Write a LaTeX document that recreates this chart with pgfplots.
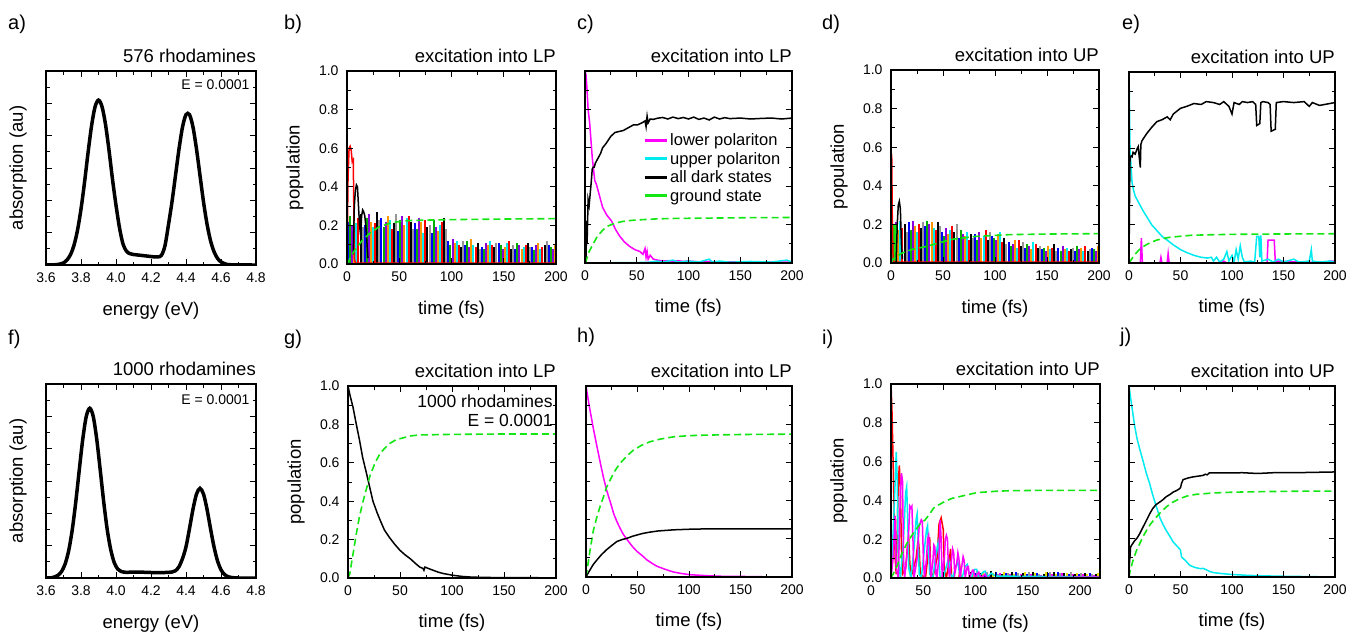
\documentclass[border=0pt]{standalone}
\usepackage{fontspec}
\setmainfont{Liberation Sans}
\usepackage{pgfplots}
\pgfplotsset{compat=1.18}

\definecolor{cmag}{RGB}{255,0,255}
\definecolor{ccyan}{RGB}{0,235,240}
\definecolor{cgreen}{RGB}{20,230,20}
\definecolor{cdgreen}{RGB}{0,175,0}
\definecolor{cpurp}{RGB}{140,0,220}
\definecolor{corange}{RGB}{255,150,0}
\definecolor{cyellow}{RGB}{235,225,0}
\definecolor{cgray}{RGB}{150,150,150}
\definecolor{cblue}{RGB}{0,0,255}
\definecolor{cred}{RGB}{255,0,0}

\tikzset{note/.style={font=\fontsize{14}{16}\selectfont, anchor=east, inner sep=0pt}}
\newcommand{\lf}{\fontsize{16.5}{19}\selectfont}

\pgfplotsset{
  panel/.style={
    scale only axis, axis on top, no markers, clip=true,
    axis line style={line width=1.4pt},
    tick style={line width=1pt, black},
    tick align=inside,
    major tick length=6pt, minor tick length=3.5pt,
    minor x tick num=1, minor y tick num=1,
    tick label style={font=\fontsize{14}{16}\selectfont},
    xticklabel style={yshift=-4pt},
    yticklabel style={xshift=-5pt},
    label style={font=\fontsize{18.5}{21}\selectfont},
    xlabel style={at={(axis description cs:0.5,-0.235)}, anchor=center},
    /pgf/number format/assume math mode=true,
  },
  every axis title/.style={at={(1,1)}, anchor=base east, yshift=9pt,
    inner sep=0pt, font=\fontsize{18.5}{21}\selectfont},
  pop/.style={panel, xmin=0, xmax=200, ymin=0, ymax=1,
    xtick={0,50,100,150,200}, ytick={0,0.2,0.4,0.6,0.8,1},
    yticklabels={0.0,0.2,0.4,0.6,0.8,1.0},
    xlabel={time (fs)}},
  poplab/.style={pop, ylabel={population},
    ylabel style={at={(axis description cs:-0.25,0.5)}, anchor=center}},
  popnolab/.style={pop, yticklabels={}},
  absorb/.style={panel, xmin=3.6, xmax=4.8, ymin=0, ymax=1.2,
    xtick={3.6,3.8,4.0,4.2,4.4,4.6,4.8},
    xticklabels={3.6,3.8,4.0,4.2,4.4,4.6,4.8},
    ytick={0,0.2,0.4,0.6,0.8,1.0,1.2}, yticklabels={},
    xlabel={energy (eV)}, ylabel={absorption (au)},
    ylabel style={at={(axis description cs:-0.133,0.5)}, anchor=center}},
  comb/.style={ycomb, line width=2pt},
  gdash/.style={color=cgreen, line width=1.6pt, dash pattern=on 7pt off 4pt},
  lw/.style={line width=1.5pt},
}

\begin{document}
\begin{tikzpicture}
\path[use as bounding box] (0,0) rectangle (1353pt,-637pt);

% ---------------- a) absorption, 576 rhodamines
\begin{axis}[absorb, at={(46pt,-71pt)}, anchor=north west, width=210pt, height=194pt,
  title={576 rhodamines}]
\addplot[black, line width=3.5pt, smooth] coordinates {
 (3.60,0)(3.64,0.001)(3.66,0.002)(3.68,0.006)(3.70,0.013)(3.72,0.031)(3.74,0.064)
 (3.76,0.122)(3.78,0.215)(3.80,0.346)(3.82,0.51)(3.84,0.692)(3.86,0.858)(3.88,0.977)
 (3.90,1.02)(3.92,0.98)(3.94,0.87)(3.96,0.71)(3.98,0.53)(4.00,0.37)(4.02,0.23)
 (4.04,0.13)(4.06,0.085)(4.08,0.07)(4.10,0.065)(4.14,0.06)(4.18,0.055)(4.22,0.05)
 (4.24,0.05)(4.26,0.06)(4.28,0.12)(4.30,0.25)(4.32,0.391)(4.34,0.554)(4.36,0.717)
 (4.38,0.853)(4.40,0.93)(4.42,0.93)(4.44,0.853)(4.46,0.717)(4.48,0.554)(4.50,0.391)
 (4.52,0.254)(4.54,0.151)(4.56,0.083)(4.58,0.041)(4.60,0.019)(4.62,0.008)(4.66,0.001)(4.80,0)};
\node[note] at (axis description cs:0.97,0.928) {E = 0.0001};
\end{axis}

% ---------------- b) excitation into LP, 576
\begin{axis}[poplab, at={(347pt,-71pt)}, anchor=north west, width=209pt, height=193pt,
  title={excitation into LP}]
\addplot[comb, cblue] coordinates {(1,0.22)(17,0.20)(33,0.24)(49,0.17)(65,0.21)(81,0.16)(97,0.12)(113,0.10)(129,0.09)(145,0.11)(161,0.08)(177,0.09)(193,0.10)};
\addplot[comb, cdgreen] coordinates {(3,0.25)(19,0.24)(35,0.19)(51,0.23)(67,0.18)(83,0.23)(99,0.10)(115,0.12)(131,0.08)(147,0.10)(163,0.11)(179,0.07)(195,0.09)};
\addplot[comb, cpurp] coordinates {(5,0.20)(21,0.26)(37,0.22)(53,0.25)(69,0.24)(85,0.19)(101,0.13)(117,0.09)(133,0.11)(149,0.08)(165,0.10)(181,0.10)(197,0.08)};
\addplot[comb, corange] coordinates {(7,0.18)(23,0.22)(39,0.25)(55,0.20)(71,0.22)(87,0.17)(103,0.11)(119,0.13)(135,0.10)(151,0.09)(167,0.08)(183,0.11)(199,0.10)};
\addplot[comb, ccyan] coordinates {(9,0.21)(25,0.19)(41,0.23)(57,0.24)(73,0.16)(89,0.20)(105,0.12)(121,0.10)(137,0.12)(153,0.11)(169,0.09)(185,0.08)(201,0.11)};
\addplot[comb, cred] coordinates {(11,0.24)(27,0.21)(43,0.18)(59,0.25)(75,0.23)(91,0.22)(107,0.10)(123,0.09)(139,0.10)(155,0.12)(171,0.10)(187,0.09)(203,0.07)};
\addplot[comb, black] coordinates {(13,0.26)(29,0.27)(45,0.21)(61,0.22)(77,0.19)(93,0.24)(109,0.09)(125,0.11)(141,0.09)(157,0.08)(173,0.11)(189,0.10)(205,0.09)};
\addplot[comb, cgray] coordinates {(15,0.19)(31,0.23)(47,0.26)(63,0.18)(79,0.20)(95,0.18)(111,0.12)(127,0.08)(143,0.11)(159,0.10)(175,0.09)(191,0.12)(207,0.08)};
\addplot[cred, lw] coordinates {(0,0)(1,0.45)(2,0.6)(3,0.61)(4,0.59)(5,0.53)(6,0.54)(6.5,0.3)(7,0.03)(8,0.005)(200,0.005)};
\addplot[black, lw] coordinates {(6,0.05)(7,0.3)(8,0.38)(9,0.41)(10,0.4)(11,0.3)(12,0.2)(13,0.15)(14,0.25)(15,0.28)(16,0.27)(17,0.25)(18,0.2)(19,0.12)(20,0.03)};
\addplot[gdash] coordinates {(0,0)(3,0.03)(6,0.06)(10,0.09)(15,0.125)(22,0.16)(30,0.19)(40,0.21)(50,0.22)(60,0.225)(80,0.228)(100,0.23)(150,0.233)(200,0.235)};
\end{axis}

% ---------------- c) excitation into LP, 576, polariton populations
\begin{axis}[popnolab, at={(585pt,-71pt)}, anchor=north west, width=207pt, height=192pt,
  title={excitation into LP},
  legend style={at={(axis description cs:0.28,0.685)}, anchor=north west, draw=none, fill=none,
    inner sep=0pt, row sep=1pt},
  legend cell align=left,
  legend image code/.code={\draw[#1, solid, line width=3pt] (0pt,0pt) -- (22pt,0pt);}]
\addplot[cmag, lw] coordinates {(0,1.0)(1,0.98)(2,0.9)(3,0.8)(4.5,0.73)(7,0.55)(9.4,0.43)(11,0.41)(13,0.37)(17,0.29)(21,0.25)(25.5,0.22)(30,0.17)(33.5,0.14)(38,0.11)(43,0.087)(48,0.07)(53,0.06)(56,0.045)(58,0.075)(59,0.03)(60,0.06)(61,0.02)(63,0.04)(66,0.02)(70,0.015)(75,0.01)(80,0.012)(85,0.008)(90,0.012)(95,0.008)(100,0.01)(110,0.006)(120,0.008)(130,0.005)(150,0.006)(170,0.004)(190,0.005)(200,0.004)};
\addplot[ccyan, lw] coordinates {(0,0)(60,0.003)(70,0.01)(75,0.005)(85,0.015)(90,0.005)(100,0.01)(110,0.005)(120,0.02)(123,0.005)(130,0.01)(140,0.004)(160,0.008)(180,0.005)(195,0.015)(200,0.005)};
\addplot[black, lw] coordinates {(0,0)(1,0.0)(1.5,0.22)(2,0.1)(3,0.33)(4,0.3)(5,0.36)(6,0.42)(7,0.49)(8,0.5)(9,0.5)(10,0.52)(12,0.54)(15,0.57)(17,0.6)(20,0.62)(25,0.66)(29,0.68)(33,0.685)(37,0.69)(42,0.705)(47,0.72)(51,0.72)(55,0.73)(58,0.74)(59,0.71)(60,0.765)(61,0.73)(63,0.75)(66,0.748)(70,0.754)(75,0.758)(80,0.75)(85,0.76)(90,0.752)(95,0.758)(100,0.75)(105,0.76)(110,0.748)(115,0.755)(120,0.745)(125,0.76)(130,0.75)(135,0.757)(140,0.752)(150,0.755)(160,0.75)(170,0.753)(180,0.755)(190,0.75)(200,0.755)};
\addplot[gdash] coordinates {(0,0)(1,0.01)(4,0.06)(8,0.10)(12,0.14)(17,0.17)(21,0.19)(25.5,0.20)(31,0.21)(37,0.217)(45,0.222)(53,0.225)(70,0.23)(85,0.232)(120,0.234)(160,0.236)(200,0.237)};
\legend{\lf lower polariton, \lf upper polariton, \lf all dark states, \lf ground state}
\end{axis}

% ---------------- d) excitation into UP, 576
\begin{axis}[poplab, at={(891pt,-70pt)}, anchor=north west, width=208pt, height=193pt,
  title={excitation into UP}]
\addplot[comb, cblue] coordinates {(1,0.20)(17,0.21)(33,0.19)(49,0.16)(65,0.13)(81,0.15)(97,0.14)(113,0.11)(129,0.08)(145,0.07)(161,0.08)(177,0.06)(193,0.08)};
\addplot[comb, cdgreen] coordinates {(3,0.19)(19,0.17)(35,0.22)(51,0.14)(67,0.17)(83,0.12)(99,0.13)(115,0.09)(131,0.10)(147,0.08)(163,0.06)(179,0.09)(195,0.07)};
\addplot[comb, cpurp] coordinates {(5,0.21)(21,0.22)(37,0.20)(53,0.18)(69,0.15)(85,0.16)(101,0.12)(117,0.10)(133,0.09)(149,0.06)(165,0.09)(181,0.07)(197,0.06)};
\addplot[comb, corange] coordinates {(7,0.17)(23,0.19)(39,0.21)(55,0.15)(71,0.14)(87,0.13)(103,0.15)(119,0.12)(135,0.07)(151,0.09)(167,0.07)(183,0.08)(199,0.09)};
\addplot[comb, ccyan] coordinates {(9,0.22)(25,0.16)(41,0.18)(57,0.17)(73,0.16)(89,0.14)(105,0.16)(121,0.08)(137,0.11)(153,0.07)(169,0.08)(185,0.06)(201,0.07)};
\addplot[comb, cred] coordinates {(11,0.18)(27,0.20)(43,0.17)(59,0.19)(75,0.12)(91,0.17)(107,0.11)(123,0.12)(139,0.10)(155,0.08)(171,0.06)(187,0.09)(203,0.05)};
\addplot[comb, black] coordinates {(13,0.20)(29,0.18)(45,0.21)(61,0.16)(77,0.15)(93,0.12)(109,0.13)(125,0.09)(141,0.08)(157,0.10)(173,0.07)(189,0.06)(205,0.08)};
\addplot[comb, cgray] coordinates {(15,0.16)(31,0.21)(47,0.19)(63,0.20)(79,0.13)(95,0.16)(111,0.10)(127,0.11)(143,0.09)(159,0.06)(175,0.08)(191,0.07)(207,0.06)};
\addplot[comb, cgreen] coordinates {(1,0.2)(2,0.2)(3,0.2)(4,0.19)(5,0.2)};
\addplot[cred, lw] coordinates {(0,0.58)(0.7,0.55)(1.2,0.25)(2,0.02)(3,0.005)(200,0.005)};
\addplot[black, lw] coordinates {(5,0.0)(6,0.2)(7,0.3)(8,0.32)(9,0.28)(10,0.1)(11,0.02)};
\addplot[gdash] coordinates {(0,0.0)(2,0.02)(10,0.05)(20,0.07)(34,0.086)(50,0.11)(60,0.124)(82,0.138)(100,0.143)(114,0.147)(150,0.15)(200,0.152)};
\end{axis}

% ---------------- e) excitation into UP, 576, polariton populations
\begin{axis}[popnolab, at={(1129pt,-72pt)}, anchor=north west, width=206pt, height=191pt,
  title={excitation into UP}]
\addplot[cmag, lw] coordinates {(0,0)(11,0)(12,0.13)(13,0)(30,0)(31,0.03)(32,0)(37,0)(38,0.05)(39,0)(90,0)(92,0.01)(95,0)(134,0)(135,0.12)(141,0.12)(142,0.01)(190,0)(195,0.01)(200,0.01)};
\addplot[ccyan, lw] coordinates {(0,1.0)(0.5,0.8)(1,0.6)(2,0.5)(3,0.42)(4.5,0.38)(6,0.35)(8,0.33)(11,0.30)(14,0.27)(17.5,0.24)(22,0.2)(27,0.17)(32,0.14)(37,0.12)(43,0.095)(50,0.07)(56,0.055)(63,0.04)(70,0.03)(76,0.026)(80,0.03)(82,0.01)(85,0.03)(88,0.005)(92,0.02)(95,0.06)(97,0.01)(100,0.04)(102,0.005)(104,0.07)(106,0.02)(108,0.09)(110,0.03)(112,0.005)(118,0.01)(122,0.005)(124,0.14)(126,0.14)(127,0.03)(128,0.145)(129,0.01)(135,0.02)(140,0.005)(145,0.02)(150,0.005)(160,0.02)(165,0.005)(175,0.01)(177,0.07)(178,0.01)(185,0.005)(195,0.01)(200,0.005)};
\addplot[black, lw] coordinates {(0,0)(0.5,0.33)(1,0.55)(2,0.56)(3,0.556)(4,0.58)(6,0.57)(8,0.6)(9,0.61)(10,0.55)(11,0.5)(11.5,0.62)(12.6,0.64)(15,0.66)(17.5,0.68)(22,0.71)(27,0.74)(32,0.75)(37,0.765)(40,0.75)(43,0.78)(50,0.81)(56,0.82)(63,0.835)(70,0.83)(75,0.845)(82,0.84)(88,0.83)(92,0.845)(97,0.82)(100,0.78)(102,0.84)(107,0.83)(110,0.845)(115,0.84)(120,0.845)(123,0.83)(124,0.72)(127,0.73)(128,0.84)(130,0.845)(135,0.84)(137,0.83)(138,0.69)(142,0.7)(143,0.84)(150,0.845)(160,0.84)(170,0.845)(175,0.82)(178,0.84)(185,0.825)(190,0.83)(200,0.84)};
\addplot[gdash] coordinates {(0,0)(5,0.04)(10,0.07)(15,0.09)(20,0.105)(27,0.12)(33,0.128)(40,0.135)(50,0.14)(60,0.145)(80,0.148)(100,0.15)(150,0.152)(200,0.153)};
\end{axis}

% ---------------- f) absorption, 1000 rhodamines
\begin{axis}[absorb, at={(46pt,-384pt)}, anchor=north west, width=210pt, height=194pt,
  title={1000 rhodamines}]
\addplot[black, line width=3.5pt, smooth] coordinates {
 (3.60,0)(3.63,0.001)(3.65,0.007)(3.67,0.018)(3.69,0.042)(3.71,0.089)(3.73,0.171)
 (3.75,0.298)(3.77,0.469)(3.79,0.667)(3.81,0.858)(3.83,0.999)(3.85,1.05)(3.87,0.999)
 (3.89,0.858)(3.91,0.667)(3.93,0.469)(3.95,0.298)(3.97,0.175)(3.99,0.095)(4.01,0.055)
 (4.03,0.04)(4.06,0.035)(4.10,0.037)(4.15,0.036)(4.20,0.034)(4.25,0.033)(4.30,0.035)
 (4.32,0.037)(4.34,0.045)(4.36,0.07)(4.38,0.12)(4.40,0.193)(4.42,0.306)(4.44,0.426)
 (4.46,0.519)(4.48,0.555)(4.50,0.519)(4.52,0.426)(4.54,0.306)(4.56,0.193)(4.58,0.106)
 (4.60,0.051)(4.62,0.022)(4.64,0.008)(4.66,0.003)(4.70,0)(4.80,0)};
\node[note] at (axis description cs:0.97,0.92) {E = 0.0001};
\end{axis}

% ---------------- g) excitation into LP, 1000
\begin{axis}[poplab, at={(348pt,-386pt)}, anchor=north west, width=208pt, height=192pt,
  title={excitation into LP}]
\addplot[cmag, line width=2pt] coordinates {(0,0.002)(200,0.002)};
\addplot[black, lw] coordinates {(0,1.0)(2,0.95)(4.8,0.89)(8,0.8)(11,0.72)(14,0.63)(18,0.54)(21,0.47)(24,0.40)(28,0.34)(31,0.30)(35,0.25)(40,0.21)(45,0.175)(50,0.144)(55,0.12)(60,0.10)(65,0.075)(69,0.057)(72,0.05)(73,0.04)(74,0.057)(78,0.048)(82,0.04)(87,0.03)(92,0.023)(101,0.014)(110,0.008)(118,0.005)(130,0.003)(150,0.002)(200,0.001)};
\addplot[gdash] coordinates {(0,0)(1.6,0.02)(5,0.13)(8,0.23)(11,0.32)(14.5,0.40)(18,0.47)(21,0.53)(26,0.6)(31,0.65)(36,0.68)(40,0.70)(46,0.72)(53,0.73)(60,0.74)(69,0.745)(100,0.748)(150,0.75)(200,0.75)};
\node[note, font=\fontsize{17.5}{19}\selectfont] at (axis description cs:0.985,0.922) {1000 rhodamines};
\node[note, font=\fontsize{17.5}{19}\selectfont] at (axis description cs:0.985,0.82) {E = 0.0001};
\end{axis}

% ---------------- h) excitation into LP, 1000, polariton populations
\begin{axis}[popnolab, at={(586pt,-386pt)}, anchor=north west, width=206pt, height=191pt,
  title={excitation into LP}]
\addplot[ccyan, line width=2pt] coordinates {(0,0.002)(200,0.002)};
\addplot[cmag, lw] coordinates {(0,1.0)(3,0.9)(7.4,0.77)(10,0.7)(14,0.595)(17,0.52)(20,0.455)(24,0.385)(27,0.33)(30,0.29)(33,0.256)(36,0.225)(40,0.195)(45,0.16)(49.5,0.134)(55,0.11)(59,0.09)(64,0.072)(69,0.056)(77,0.04)(85,0.026)(93,0.018)(101,0.012)(117,0.007)(130,0.004)(150,0.003)(175,0.001)(200,0.0)};
\addplot[black, lw] coordinates {(0,0)(2,0.02)(4,0.038)(7,0.065)(10.7,0.09)(15,0.117)(20,0.143)(25,0.165)(30,0.186)(35,0.196)(40,0.203)(45,0.213)(49.5,0.22)(55,0.228)(62,0.235)(70,0.241)(85,0.247)(100,0.25)(117,0.252)(150,0.252)(200,0.252)};
\addplot[gdash] coordinates {(0,0)(2,0.07)(4,0.143)(7,0.24)(10.7,0.317)(14,0.375)(17,0.42)(20,0.47)(23.6,0.51)(28,0.555)(33,0.595)(40,0.635)(46,0.664)(54,0.69)(62,0.708)(72,0.722)(85,0.734)(100,0.74)(117,0.743)(150,0.746)(200,0.748)};
\end{axis}

% ---------------- i) excitation into UP, 1000
\begin{axis}[poplab, at={(891pt,-384pt)}, anchor=north west, width=209pt, height=194pt,
  title={excitation into UP}, xticklabel style={xshift=-20pt}]
\addplot[comb, black] coordinates {(76,0.03)(86,0.025)(96,0.035)(106,0.02)(116,0.03)(126,0.028)(136,0.033)(146,0.022)(156,0.03)(166,0.025)(176,0.02)(186,0.027)(196,0.02)};
\addplot[comb, cyellow] coordinates {(78,0.02)(88,0.03)(98,0.025)(108,0.03)(118,0.022)(128,0.03)(138,0.025)(148,0.03)(158,0.02)(168,0.028)(178,0.025)(188,0.02)(198,0.025)};
\addplot[comb, cblue] coordinates {(80,0.025)(90,0.02)(100,0.03)(110,0.025)(120,0.03)(130,0.02)(140,0.027)(150,0.025)(160,0.03)(170,0.02)(180,0.022)(190,0.025)(200,0.018)};
\addplot[comb, cgray] coordinates {(82,0.035)(92,0.03)(102,0.02)(112,0.028)(122,0.025)(132,0.033)(142,0.02)(152,0.03)(162,0.025)(172,0.03)(182,0.027)(192,0.022)(202,0.02)};
\addplot[comb, cmag] coordinates {(84,0.02)(94,0.018)(104,0.025)(114,0.02)(124,0.022)(134,0.02)(144,0.018)(154,0.02)(164,0.024)(174,0.02)(184,0.022)(194,0.018)(204,0.02)};
\addplot[cred, lw] coordinates {(0,1.0)(1,0.85)(2,0.6)(3,0.35)(4,0.1)(5,0.02)(6,0.25)(7,0.5)(8,0.58)(9,0.45)(10,0.15)(11,0.02)(14,0.05)(16,0.18)(17,0.2)(18,0.08)(19,0.0)(24,0.1)(26,0.2)(27,0.15)(28,0.02)(33,0.0)(36,0.15)(37,0.21)(38,0.05)(40,0)(44,0.1)(46,0.28)(48,0.31)(50,0.25)(51,0.05)(53,0)(56,0.1)(57,0.15)(58,0)(65,0)(66,0.05)(67,0)(200,0.003)};
\addplot[ccyan, lw] coordinates {(0,0)(3,0.35)(5,0.65)(6,0.5)(7,0.1)(9,0)(12,0.2)(14,0.44)(15,0.47)(16,0.3)(17,0.05)(19,0)(22,0.15)(24,0.3)(25,0.33)(26,0.2)(27,0.02)(29,0)(32,0.15)(34,0.25)(35,0.27)(36,0.15)(37,0.02)(40,0)(43,0.12)(45,0.18)(46,0.1)(47,0.0)(50,0)(53,0.06)(55,0.1)(57,0.02)(59,0)(62,0.06)(64,0.08)(66,0.01)(68,0)(71,0.06)(73,0.07)(75,0.02)(77,0)(80,0.045)(82,0.045)(84,0.005)(88,0.03)(90,0.035)(92,0.005)(96,0.025)(100,0.01)(200,0.005)};
\addplot[cmag, lw] coordinates {(0,0)(2,0.1)(4,0.32)(5,0.05)(7,0)(9,0.45)(10,0.54)(11,0.5)(12,0.1)(13,0)(15,0.1)(17,0.25)(18,0.37)(19,0.36)(20,0.37)(21,0.2)(22,0.0)(25,0.1)(27,0.27)(29,0.3)(30,0.29)(31,0.1)(32,0)(34,0.1)(35,0.2)(36,0.22)(37,0.15)(38,0)(40,0.08)(41,0.17)(42,0.16)(43,0.02)(44,0)(46,0.12)(47,0.3)(48,0.2)(49,0.0)(51,0.1)(52,0.2)(53,0.22)(54,0.2)(55,0.05)(56,0)(58,0.1)(59,0.15)(60,0.13)(61,0.02)(63,0.08)(64,0.13)(65,0.1)(66,0.0)(68,0.07)(69,0.11)(70,0.09)(71,0)(73,0.06)(74,0.06)(75,0)(78,0.04)(79,0.04)(80,0.0)(84,0.03)(86,0.0)(90,0.02)(92,0)(200,0.005)};
\addplot[gdash] coordinates {(0,0)(2,0.02)(5.4,0.057)(10,0.12)(15,0.177)(20,0.22)(24.7,0.255)(28,0.28)(32.7,0.3)(37,0.33)(40.7,0.36)(45,0.375)(50,0.39)(58,0.41)(66,0.42)(74,0.43)(82,0.44)(100,0.447)(114,0.45)(150,0.452)(200,0.452)};
\end{axis}

% ---------------- j) excitation into UP, 1000, polariton populations
\begin{axis}[popnolab, at={(1129pt,-386pt)}, anchor=north west, width=206pt, height=191pt,
  title={excitation into UP}]
\addplot[cmag, line width=2pt] coordinates {(0,0.002)(200,0.002)};
\addplot[ccyan, lw] coordinates {(0,1.0)(2.3,0.91)(5.5,0.79)(8,0.72)(10.4,0.67)(14,0.6)(17,0.54)(20,0.49)(23,0.43)(26.5,0.37)(30,0.31)(33,0.275)(36,0.245)(40,0.21)(43,0.183)(46,0.165)(49,0.148)(50,0.14)(51,0.105)(55,0.085)(59,0.061)(64,0.05)(69,0.044)(72,0.045)(75,0.038)(78,0.03)(82,0.023)(90,0.018)(98,0.014)(114,0.009)(130,0.006)(150,0.004)(175,0.002)(200,0.0)};
\addplot[black, lw] coordinates {(0,0)(0.3,0.06)(0.6,0.087)(1,0.11)(1.5,0.157)(3,0.17)(5.5,0.19)(8,0.205)(10.4,0.227)(13,0.255)(17,0.297)(20,0.33)(23,0.358)(26,0.378)(30,0.393)(33,0.405)(36,0.42)(40,0.433)(43,0.445)(46,0.452)(49,0.462)(50,0.468)(51,0.49)(52.5,0.51)(57,0.518)(62,0.524)(67,0.528)(72,0.532)(74,0.538)(76,0.535)(78,0.545)(85,0.545)(98,0.545)(110,0.546)(125,0.542)(140,0.546)(160,0.546)(180,0.548)(200,0.55)};
\addplot[gdash] coordinates {(0,0)(1,0.03)(3.9,0.087)(7,0.135)(10.4,0.175)(14,0.215)(17,0.244)(21,0.278)(26.6,0.314)(31,0.34)(36,0.366)(42,0.39)(49,0.41)(57,0.425)(65.5,0.433)(82,0.44)(100,0.444)(130,0.447)(160,0.449)(200,0.45)};
\end{axis}

% panel letters
\begin{scope}[every node/.style={anchor=west, inner sep=0pt, font=\fontsize{20}{22}\selectfont}]
\node at (8pt,-24pt) {a)};
\node at (284pt,-24pt) {b)};
\node at (577pt,-24pt) {c)};
\node at (822pt,-24pt) {d)};
\node at (1122pt,-24pt) {e)};
\node at (8pt,-339pt) {f)};
\node at (284pt,-339pt) {g)};
\node at (577pt,-337pt) {h)};
\node at (822pt,-339pt) {i)};
\node at (1120pt,-337pt) {j)};
\end{scope}
\end{tikzpicture}
\end{document}
